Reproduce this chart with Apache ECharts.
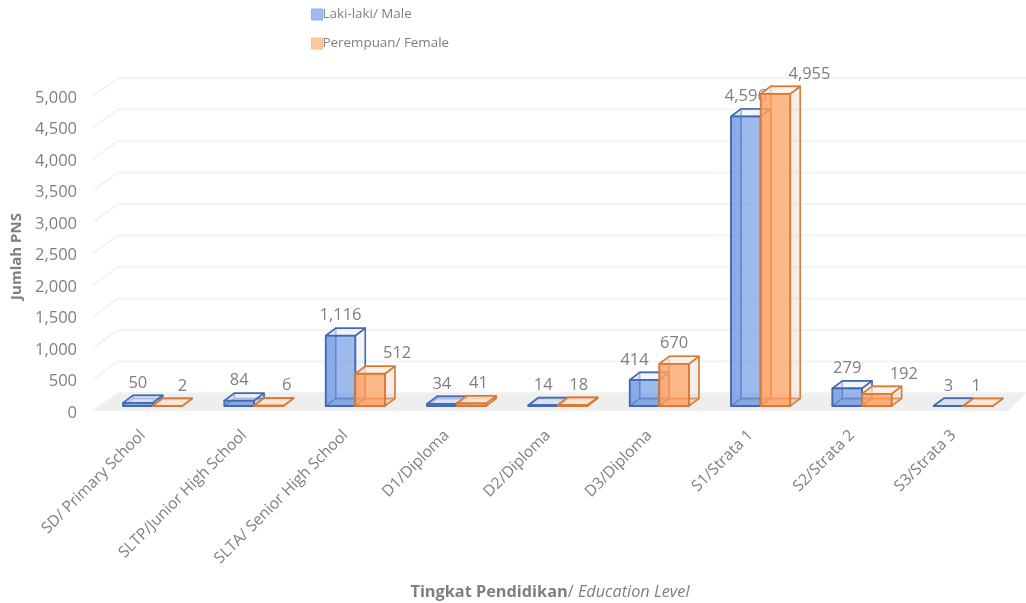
<!DOCTYPE html>
<html><head><meta charset="utf-8">
<style>html,body{margin:0;padding:0;background:#fff}#c{width:1026px;height:603px}</style>
<script src="https://cdn.jsdelivr.net/npm/echarts@6/dist/echarts.min.js"></script>
</head><body><div id="c"></div>
<script>
const categories = ['SD/ Primary School','SLTP/Junior High School','SLTA/ Senior High School','D1/Diploma','D2/Diploma','D3/Diploma','S1/Strata 1','S2/Strata 2','S3/Strata 3'];
const maleValues = [50,84,1116,34,14,414,4596,279,3];
const femaleValues = [2,6,512,41,18,670,4955,192,1];
const yTicks = [0,500,1000,1500,2000,2500,3000,3500,4000,4500,5000];
const maleName = 'Laki-laki/ Male';
const femaleName = 'Perempuan/ Female';

// label nudges (manually placed labels in the original)
const maleNudge = [0,0,0,0,0,-10,0,0,0];
const femaleNudge = [15,18,27,7,6,0,34,27,-2];

const FONT = '"Open Sans","Noto Sans",sans-serif';
const TXT = '#7f7f7f';
const BAR_W = 29.6, DX = 10, DY = -7.5, BASE_DY = -7;
const WALL_DX = 25, WALL_DY = -18, FRONT_DY = -2;

function boxItem(side, colors, nudges) {
  return function (params, api) {
    const i = api.value(0), v = api.value(1);
    const c0 = api.coord([i, 0]), c1 = api.coord([i, v]);
    const x0 = side < 0 ? c0[0] - BAR_W : c0[0], x1 = x0 + BAR_W;
    const yb = c0[1] + BASE_DY, yt = c1[1] + BASE_DY;
    const P = (pts, fill, stroke, w) => ({
      type: 'polygon', shape: { points: pts },
      style: { fill: fill, stroke: stroke, lineWidth: w, lineJoin: 'round' }
    });
    const s = colors.stroke, sl = colors.backStroke;
    const h = [
      P([[x0+DX,yb+DY],[x1+DX,yb+DY],[x1+DX,yt+DY],[x0+DX,yt+DY]], colors.back, sl, 1.3),
      P([[x0,yb],[x1,yb],[x1+DX,yb+DY],[x0+DX,yb+DY]], colors.bottom, sl, 1.3),
      P([[x0,yb],[x0+DX,yb+DY],[x0+DX,yt+DY],[x0,yt]], colors.left, sl, 1.3),
      P([[x1,yb],[x1+DX,yb+DY],[x1+DX,yt+DY],[x1,yt]], colors.side, sl, 1.5),
      P([[x0,yt],[x1,yt],[x1+DX,yt+DY],[x0+DX,yt+DY]], colors.top, s, 1.6),
      P([[x0,yb],[x1,yb],[x1,yt],[x0,yt]], colors.front, s, 1.8),
      {
        type: 'text',
        style: {
          x: x0 + BAR_W / 2 + nudges[i], y: yt - 20,
          text: api.value(1).toLocaleString('en-US'),
          fill: TXT, font: '16.5px ' + FONT, align: 'center', verticalAlign: 'middle'
        }
      }
    ];
    return { type: 'group', children: h };
  };
}

const blue = {
  stroke: '#4369b0', backStroke: 'rgba(67,105,176,0.9)',
  front: 'rgba(110,150,225,0.66)', back: 'rgba(200,215,240,0.08)', bottom: 'rgba(110,150,225,0.4)',
  left: 'rgba(110,150,225,0.4)', side: 'rgba(205,212,228,0.2)', top: 'rgba(235,240,250,0.6)'
};
const orange = {
  stroke: '#d67a35', backStroke: 'rgba(214,122,53,0.9)',
  front: 'rgba(253,160,95,0.72)', back: 'rgba(245,210,190,0.08)', bottom: 'rgba(253,160,95,0.4)',
  left: 'rgba(253,160,95,0.4)', side: 'rgba(235,210,195,0.3)', top: 'rgba(252,238,228,0.7)'
};

const option = {
  animation: false,
  backgroundColor: '#fff',
  textStyle: { fontFamily: FONT },
  legend: {
    left: 306, top: 3, orient: 'vertical', itemWidth: 11, itemHeight: 11, itemGap: 16,
    selectedMode: false, icon: 'rect',
    textStyle: { color: TXT, fontSize: 13.4, fontFamily: FONT, padding: [0,0,0,-5] },
    data: [
      { name: maleName, itemStyle: { color: '#a0bcef', borderColor: '#8fb0e8', borderWidth: 1 } },
      { name: femaleName, itemStyle: { color: '#fdcb99', borderColor: '#f6bf88', borderWidth: 1 } }
    ]
  },
  grid: { left: 102, width: 912, top: 98, height: 315, containLabel: false, outerBoundsMode: 'none' },
  xAxis: {
    type: 'category', data: categories,
    axisLine: { show: false }, axisTick: { show: false },
    name: '{b|Tingkat Pendidikan}{n|/ }{i|Education Level}',
    nameLocation: 'middle', nameGap: 171,
    nameTextStyle: {
      padding: [0,16,0,0],
      rich: {
        b: { fontWeight: 'bold', fontSize: 16.3, color: TXT, fontFamily: FONT },
        n: { fontSize: 16.3, color: TXT, fontFamily: FONT },
        i: { fontStyle: 'italic', fontSize: 16.3, color: TXT, fontFamily: FONT }
      }
    },
    axisLabel: { rotate: 45, interval: 0, margin: 10, padding: [0,14,0,0], color: TXT, fontSize: 15.6, fontFamily: FONT }
  },
  yAxis: {
    type: 'value', min: 0, max: 5000, interval: 500,
    splitLine: { show: false }, axisLine: { show: false }, axisTick: { show: false },
    axisLabel: { margin: 25, color: TXT, fontSize: 16.5, fontFamily: FONT, formatter: v => v.toLocaleString('en-US') },
    name: 'Jumlah PNS', nameLocation: 'middle', nameGap: 78, nameRotate: 90,
    nameTextStyle: { color: TXT, fontWeight: 'bold', fontSize: 15, fontFamily: FONT, padding: [0,2,0,0] }
  },
  series: [
    {
      type: 'custom', name: 'wall', silent: true, clip: false, z: 1, coordinateSystem: 'cartesian2d',
      data: yTicks.map(t => [0, t]), encode: { x: 0, y: 1 },
      renderItem(params, api) {
        const v = api.value(1), cs = params.coordSys;
        const y = api.coord([0, v])[1] + FRONT_DY;
        const kids = [];
        if (v === 0) kids.push({
          type: 'polygon',
          shape: { points: [[cs.x - 9, y], [cs.x - 9 + WALL_DX, y + WALL_DY], [1026, y + WALL_DY], [cs.x + cs.width - 6, y]] },
          style: { fill: '#eeeeee' }
        });
        kids.push({
          type: 'polyline',
          shape: { points: [[cs.x - 9, y], [cs.x - 9 + WALL_DX, y + WALL_DY], [1026, y + WALL_DY]] },
          style: { fill: 'none', stroke: '#f3f3f3', lineWidth: 2 }
        });
        return { type: 'group', children: kids };
      }
    },
    {
      type: 'custom', name: maleName, clip: false, z: 2,
      itemStyle: { color: '#a0bcef' },
      data: maleValues.map((v, i) => [i, v]), encode: { x: 0, y: 1 },
      renderItem: boxItem(-1, blue, maleNudge)
    },
    {
      type: 'custom', name: femaleName, clip: false, z: 3,
      itemStyle: { color: '#fdcb99' },
      data: femaleValues.map((v, i) => [i, v]), encode: { x: 0, y: 1 },
      renderItem: boxItem(1, orange, femaleNudge)
    }
  ]
};
const chart = echarts.init(document.getElementById('c'), null, { renderer: 'canvas' });
chart.setOption(option);
</script></body></html>
